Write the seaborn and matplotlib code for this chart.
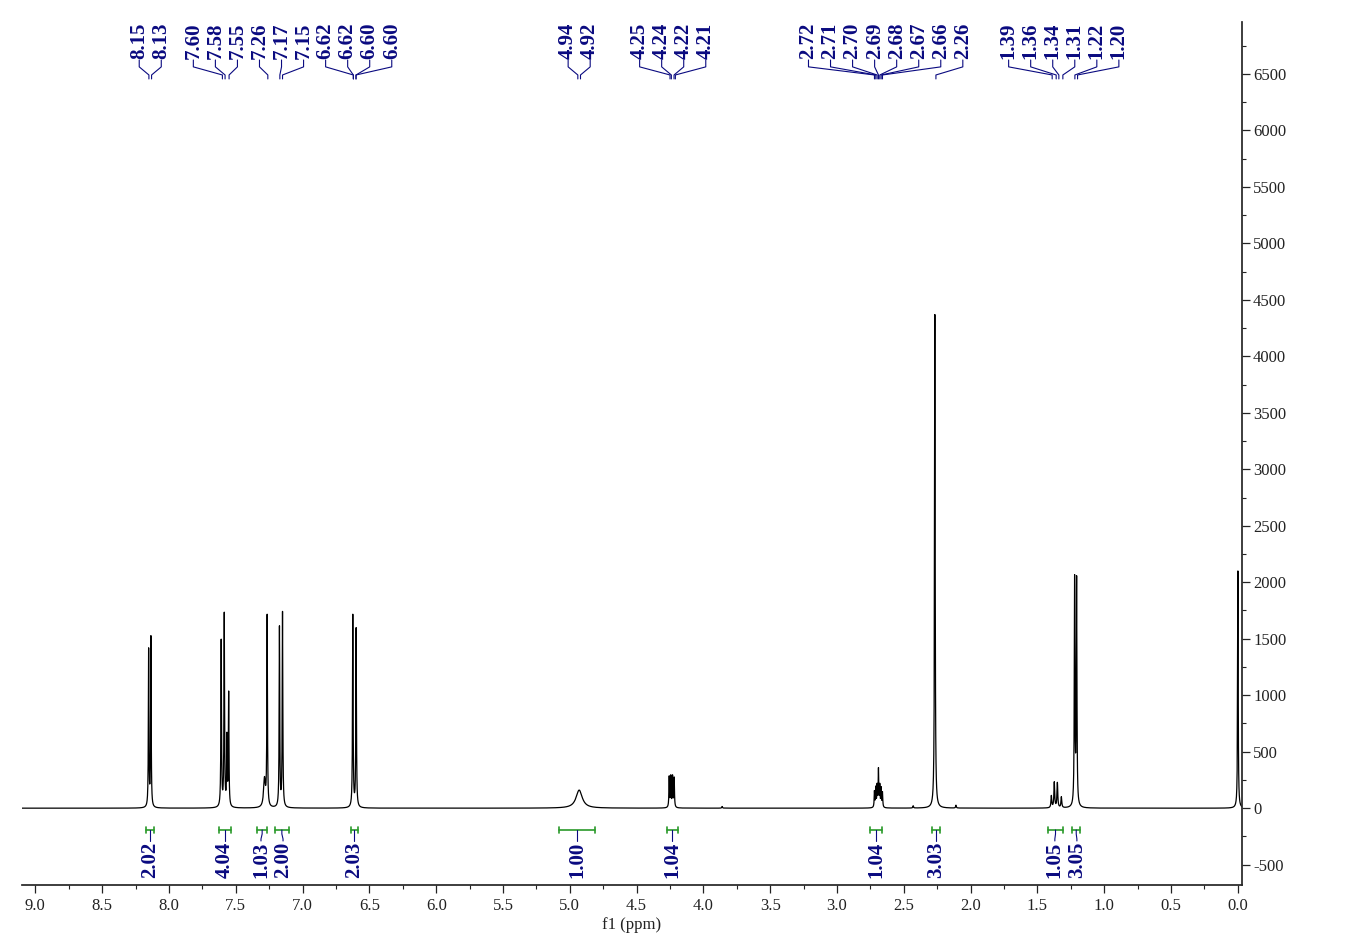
import numpy as np
import pandas as pd
import matplotlib
matplotlib.use('Agg')
import matplotlib.pyplot as plt
from matplotlib.ticker import MultipleLocator, FormatStrFormatter
import seaborn as sns

# --- peaks (ppm, height, half width) ---
peak_ppm = [8.152, 8.135, 7.609, 7.586, 7.566, 7.553, 7.285, 7.265, 7.173, 7.150,
            6.624, 6.599, 4.930, 4.256, 4.244, 4.231, 4.219, 3.860,
            2.720, 2.710, 2.700, 2.690, 2.680, 2.670, 2.660, 2.430, 2.268, 2.110,
            1.396, 1.374, 1.351, 1.321, 1.222, 1.207, 0.000]
peak_height = [1390, 1500, 1470, 1700, 600, 1000, 250, 1680, 1590, 1720,
               1700, 1580, 160, 270, 270, 270, 260, 15,
               140, 170, 185, 330, 185, 165, 130, 20, 4370, 25,
               105, 225, 220, 95, 2000, 1990, 2100]
peak_hwhm = [0.0024, 0.0024, 0.0026, 0.0026, 0.0026, 0.0026, 0.008, 0.0026, 0.0026, 0.0026,
             0.0026, 0.0026, 0.028, 0.0026, 0.0026, 0.0026, 0.0026, 0.003,
             0.0025, 0.0025, 0.0025, 0.0025, 0.0025, 0.0025, 0.0025, 0.003, 0.0028, 0.003,
             0.0035, 0.0035, 0.0035, 0.0035, 0.0028, 0.0028, 0.0025]

# --- peak picking labels ---
shift_labels = [8.15, 8.13, 7.60, 7.58, 7.55, 7.26, 7.17, 7.15, 6.62, 6.62, 6.60, 6.60,
                4.94, 4.92, 4.25, 4.24, 4.22, 4.21,
                2.72, 2.71, 2.70, 2.69, 2.68, 2.67, 2.66, 2.26,
                1.39, 1.36, 1.34, 1.31, 1.22, 1.20]

# --- integrals ---
int_start = [8.172, 7.624, 7.340, 7.210, 6.640, 5.080, 4.275, 2.755, 2.290, 1.420, 1.240]
int_end = [8.115, 7.536, 7.265, 7.100, 6.585, 4.810, 4.193, 2.660, 2.230, 1.310, 1.180]
int_value = ['2.02', '4.04', '1.03', '2.00', '2.03', '1.00', '1.04', '1.04', '3.03', '1.05', '3.05']

# build the trace from the picked lines
ppm = np.arange(-0.03, 9.1, 0.00025)
inten = np.zeros_like(ppm)
for c, h, w in zip(peak_ppm, peak_height, peak_hwhm):
    inten += h / (1 + ((ppm - c) / w) ** 2)
df = pd.DataFrame({'ppm': ppm, 'intensity': inten})


def spread(targets, gap):
    # keep labels apart by merging crowded ones into evenly spaced clusters
    pos = [-t for t in targets]
    clusters = []
    for p in pos:
        clusters.append([p])
        while len(clusters) > 1:
            a, b = clusters[-2], clusters[-1]
            end_a = np.mean(a) + (len(a) - 1) * gap / 2
            start_b = np.mean(b) - (len(b) - 1) * gap / 2
            if start_b - end_a < gap:
                clusters[-2:] = [a + b]
            else:
                break
    out = []
    for cl in clusters:
        start = np.mean(cl) - (len(cl) - 1) * gap / 2
        out += [-(start + i * gap) for i in range(len(cl))]
    return out


sns.set_theme(style='ticks')
plt.rcParams['font.family'] = ['Liberation Serif', 'DejaVu Serif']

fig = plt.figure(figsize=(13.48, 9.52), dpi=100)
ax = fig.add_axes([0.0163, 0.0704, 0.905, 0.9065])

sns.lineplot(data=df, x='ppm', y='intensity', color='black', lw=0.9,
             estimator=None, sort=False, ax=ax)

ax.set_xlim(9.1, -0.03)
ax.set_ylim(-680, 6960)

navy = '#0a0a80'
green = '#2a9a2a'
trans = ax.get_xaxis_transform()
gap = 0.165

# peak labels with leader lines
lab_x = spread(shift_labels, gap)
for v, lx in zip(shift_labels, lab_x):
    ax.plot([lx, lx, v, v], [0.956, 0.948, 0.9386, 0.934], color=navy, lw=0.8,
            transform=trans, clip_on=False)
    ax.text(lx, 0.957, f'{v:.2f}', rotation=90, ha='center', va='bottom',
            color=navy, fontsize=15, fontweight='bold', transform=trans)

# integral brackets and values
centers = [(a + b) / 2 for a, b in zip(int_start, int_end)]
int_x = spread(centers, gap)
yb = 0.0637
for a, b, c, lx, val in zip(int_start, int_end, centers, int_x, int_value):
    ax.plot([a, b], [yb, yb], color=green, lw=1.2, transform=trans)
    ax.plot([a, a], [yb - 0.003, yb + 0.003], color=green, lw=1.2, transform=trans)
    ax.plot([b, b], [yb - 0.003, yb + 0.003], color=green, lw=1.2, transform=trans)
    ax.plot([c, c, lx, lx], [yb, 0.0591, 0.0533, 0.051], color=navy, lw=0.8,
            transform=trans)
    ax.text(lx, 0.050, val, rotation=90, ha='center', va='top',
            color=navy, fontsize=15, fontweight='bold', transform=trans)

# axes styling
ax.spines['top'].set_visible(False)
ax.spines['left'].set_visible(False)
ax.yaxis.tick_right()
ax.xaxis.set_major_locator(MultipleLocator(0.5))
ax.xaxis.set_minor_locator(MultipleLocator(0.25))
ax.xaxis.set_major_formatter(FormatStrFormatter('%.1f'))
ax.yaxis.set_major_locator(MultipleLocator(500))
ax.yaxis.set_minor_locator(MultipleLocator(250))
ax.yaxis.set_major_formatter(FormatStrFormatter('%d'))
ax.tick_params(axis='both', which='major', length=6, width=0.9, labelsize=12,
               colors='#222222', direction='out')
ax.tick_params(axis='both', which='minor', length=3, width=0.8, direction='out',
               colors='#222222')
ax.tick_params(axis='y', pad=2)
ax.set_xlabel('f1 (ppm)', fontsize=12, color='#222222', labelpad=2)
ax.set_ylabel('')

plt.savefig('out.png', dpi=100)
